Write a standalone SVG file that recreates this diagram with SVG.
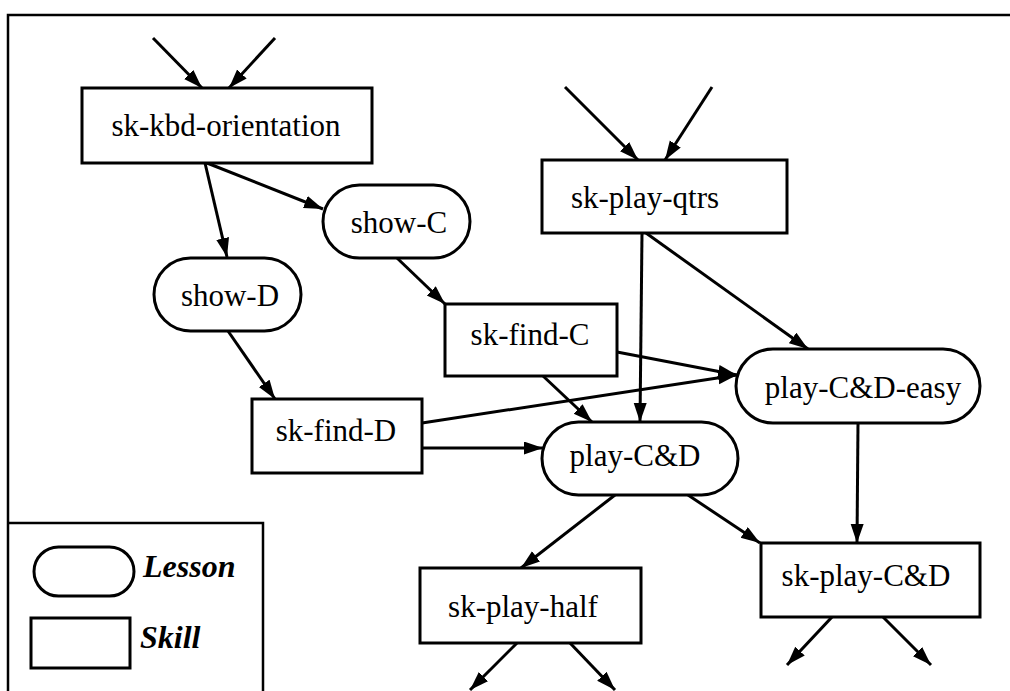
<svg xmlns="http://www.w3.org/2000/svg" width="1010" height="691" viewBox="0 0 1010 691">
<style>
.n{fill:#fff;stroke:#000;stroke-width:3}
.t{font-family:"Liberation Serif","Times New Roman",serif;font-size:31px;fill:#000;text-anchor:middle}
.lg{font-family:"Liberation Serif","Times New Roman",serif;font-size:32px;font-weight:bold;font-style:italic;fill:#000}
.e{fill:none;stroke:#000;stroke-width:3;marker-end:url(#ah)}
.f{fill:none;stroke:#000;stroke-width:2.5}
</style>
<defs>
<marker id="ah" markerUnits="userSpaceOnUse" markerWidth="20" markerHeight="14" refX="19" refY="6.5" orient="auto">
<path d="M0,0 L19,6.5 L0,13 z" fill="#000"/>
</marker>
</defs>
<rect width="1010" height="691" fill="#fff"/>
<g id="frame">
<path class="f" d="M1010,15 L8,15 L8,691"/>
</g>
<g id="legend">
<path class="f" d="M9,523 L263,523 L263,691"/>
<rect class="n" x="34" y="547" width="100" height="49" rx="24.5"/>
<text class="lg" x="143" y="577">Lesson</text>
<rect class="n" x="31" y="618" width="99" height="50"/>
<text class="lg" x="140" y="648">Skill</text>
</g>
<g id="connectors">
<line class="e" x1="153" y1="38" x2="202" y2="88"/>
<line class="e" x1="275" y1="38" x2="229" y2="88"/>
<line class="e" x1="205" y1="163" x2="227" y2="257"/>
<line class="e" x1="207" y1="163" x2="323" y2="209"/>
<line class="e" x1="397" y1="258" x2="445" y2="304"/>
<line class="e" x1="228" y1="331" x2="275" y2="399"/>
<line class="e" x1="565" y1="87" x2="638" y2="160"/>
<line class="e" x1="712" y1="87" x2="665" y2="160"/>
<line class="e" x1="642" y1="233" x2="640" y2="422"/>
<line class="e" x1="646" y1="233" x2="808" y2="349"/>
<line class="e" x1="617" y1="352" x2="737" y2="375"/>
<line class="e" x1="422" y1="423" x2="737" y2="375"/>
<line class="e" x1="543" y1="376" x2="592" y2="422"/>
<line class="e" x1="422" y1="448" x2="543" y2="448"/>
<line class="e" x1="858" y1="423" x2="857" y2="543"/>
<line class="e" x1="615" y1="495" x2="521" y2="568"/>
<line class="e" x1="688" y1="495" x2="760" y2="543"/>
<line class="e" x1="832" y1="617" x2="787" y2="665"/>
<line class="e" x1="883" y1="617" x2="931" y2="665"/>
<line class="e" x1="517" y1="643" x2="470" y2="690"/>
<line class="e" x1="570" y1="643" x2="615" y2="690"/>
</g>
<g id="sk-kbd-orientation">
<rect class="n" x="82" y="88" width="290" height="75"/>
<text class="t" x="226" y="136">sk-kbd-orientation</text>
</g>
<g id="show-C">
<rect class="n" x="323" y="185" width="147" height="73" rx="36.5"/>
<text class="t" x="399" y="233">show-C</text>
</g>
<g id="show-D">
<rect class="n" x="154" y="258" width="147" height="73" rx="36.5"/>
<text class="t" x="230" y="306">show-D</text>
</g>
<g id="sk-play-qtrs">
<rect class="n" x="542" y="160" width="245" height="73"/>
<text class="t" x="645" y="208">sk-play-qtrs</text>
</g>
<g id="sk-find-C">
<rect class="n" x="445" y="304" width="172" height="72"/>
<text class="t" x="530" y="345">sk-find-C</text>
</g>
<g id="sk-find-D">
<rect class="n" x="252" y="399" width="170" height="74"/>
<text class="t" x="336" y="441">sk-find-D</text>
</g>
<g id="play-C-D-easy">
<rect class="n" x="736" y="349" width="244" height="74" rx="37"/>
<text class="t" x="863" y="398">play-C&amp;D-easy</text>
</g>
<g id="play-C-D">
<rect class="n" x="542" y="422" width="196" height="73" rx="36.5"/>
<text class="t" x="635" y="466">play-C&amp;D</text>
</g>
<g id="sk-play-half">
<rect class="n" x="420" y="568" width="221" height="75"/>
<text class="t" x="523" y="617">sk-play-half</text>
</g>
<g id="sk-play-C-D">
<rect class="n" x="761" y="543" width="219" height="74"/>
<text class="t" x="866" y="586">sk-play-C&amp;D</text>
</g>
</svg>
